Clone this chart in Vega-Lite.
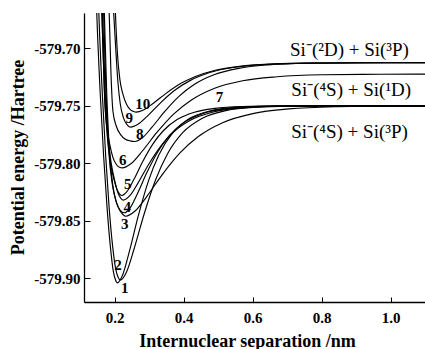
{
"$schema":"https://vega.github.io/schema/vega-lite/v6.json",
"width":341,"height":289,
"autosize":{"type":"none"},
"padding":{"left":84,"top":13,"right":0,"bottom":47},
"background":"white",
"config":{"view":{"stroke":null},"font":"Liberation Serif"},
"datasets":{
"curves":[
{"c":"1","x":0.143,"y":-579.62},{"c":"1","x":0.148,"y":-579.669},{"c":"1","x":0.158,"y":-579.739},{"c":"1","x":0.168,"y":-579.794},{"c":"1","x":0.178,"y":-579.839},{"c":"1","x":0.188,"y":-579.874},{"c":"1","x":0.196,"y":-579.894},{"c":"1","x":0.202,"y":-579.901},{"c":"1","x":0.208,"y":-579.904},{"c":"1","x":0.223,"y":-579.8971},{"c":"1","x":0.243,"y":-579.8762},{"c":"1","x":0.268,"y":-579.8462},{"c":"1","x":0.298,"y":-579.8153},{"c":"1","x":0.328,"y":-579.7928},{"c":"1","x":0.368,"y":-579.7736},{"c":"1","x":0.418,"y":-579.7609},{"c":"1","x":0.478,"y":-579.7543},{"c":"1","x":0.558,"y":-579.7512},{"c":"1","x":0.658,"y":-579.75025},{"c":"1","x":0.808,"y":-579.75002},{"c":"1","x":1.1,"y":-579.75},
{"c":"2","x":0.149,"y":-579.62},{"c":"2","x":0.154,"y":-579.669},{"c":"2","x":0.164,"y":-579.739},{"c":"2","x":0.174,"y":-579.794},{"c":"2","x":0.184,"y":-579.839},{"c":"2","x":0.194,"y":-579.872},{"c":"2","x":0.203,"y":-579.892},{"c":"2","x":0.21,"y":-579.899},{"c":"2","x":0.217,"y":-579.9015},{"c":"2","x":0.234,"y":-579.8948},{"c":"2","x":0.2566,"y":-579.8741},{"c":"2","x":0.2848,"y":-579.8447},{"c":"2","x":0.3187,"y":-579.8143},{"c":"2","x":0.3526,"y":-579.7921},{"c":"2","x":0.3978,"y":-579.7732},{"c":"2","x":0.4543,"y":-579.7608},{"c":"2","x":0.5221,"y":-579.7542},{"c":"2","x":0.6125,"y":-579.7512},{"c":"2","x":0.7255,"y":-579.7502},{"c":"2","x":1.1,"y":-579.75},
{"c":"3","x":0.165,"y":-579.62},{"c":"3","x":0.17,"y":-579.669},{"c":"3","x":0.177,"y":-579.74},{"c":"3","x":0.185,"y":-579.79},{"c":"3","x":0.195,"y":-579.82},{"c":"3","x":0.205,"y":-579.834},{"c":"3","x":0.215,"y":-579.841},{"c":"3","x":0.224,"y":-579.8445},{"c":"3","x":0.232,"y":-579.846},{"c":"3","x":0.2583,"y":-579.8417},{"c":"3","x":0.2935,"y":-579.8287},{"c":"3","x":0.3374,"y":-579.81},{"c":"3","x":0.39,"y":-579.7907},{"c":"3","x":0.4427,"y":-579.7767},{"c":"3","x":0.513,"y":-579.7647},{"c":"3","x":0.6008,"y":-579.7568},{"c":"3","x":0.7061,"y":-579.7527},{"c":"3","x":0.8466,"y":-579.7508},{"c":"3","x":1.022,"y":-579.75015},{"c":"3","x":1.1,"y":-579.7501},
{"c":"4","x":0.163,"y":-579.62},{"c":"4","x":0.168,"y":-579.669},{"c":"4","x":0.175,"y":-579.74},{"c":"4","x":0.183,"y":-579.79},{"c":"4","x":0.193,"y":-579.818},{"c":"4","x":0.203,"y":-579.832},{"c":"4","x":0.212,"y":-579.839},{"c":"4","x":0.22,"y":-579.842},{"c":"4","x":0.228,"y":-579.843},{"c":"4","x":0.2444,"y":-579.8389},{"c":"4","x":0.2662,"y":-579.8262},{"c":"4","x":0.2934,"y":-579.8081},{"c":"4","x":0.3261,"y":-579.7895},{"c":"4","x":0.3588,"y":-579.7758},{"c":"4","x":0.4024,"y":-579.7642},{"c":"4","x":0.4569,"y":-579.7566},{"c":"4","x":0.5223,"y":-579.7526},{"c":"4","x":0.6095,"y":-579.7507},{"c":"4","x":0.7185,"y":-579.75015},{"c":"4","x":1.1,"y":-579.75},
{"c":"5","x":0.16,"y":-579.62},{"c":"5","x":0.165,"y":-579.669},{"c":"5","x":0.172,"y":-579.735},{"c":"5","x":0.18,"y":-579.775},{"c":"5","x":0.19,"y":-579.8},{"c":"5","x":0.2,"y":-579.815},{"c":"5","x":0.21,"y":-579.826},{"c":"5","x":0.218,"y":-579.8305},{"c":"5","x":0.225,"y":-579.832},{"c":"5","x":0.2432,"y":-579.8284},{"c":"5","x":0.2675,"y":-579.8172},{"c":"5","x":0.2979,"y":-579.8012},{"c":"5","x":0.3344,"y":-579.7848},{"c":"5","x":0.3708,"y":-579.7728},{"c":"5","x":0.4194,"y":-579.7626},{"c":"5","x":0.4802,"y":-579.7558},{"c":"5","x":0.553,"y":-579.7523},{"c":"5","x":0.6503,"y":-579.7507},{"c":"5","x":0.7718,"y":-579.7501},{"c":"5","x":1.1,"y":-579.75},
{"c":"5b","x":0.158,"y":-579.62},{"c":"5b","x":0.163,"y":-579.669},{"c":"5b","x":0.17,"y":-579.735},{"c":"5b","x":0.178,"y":-579.775},{"c":"5b","x":0.188,"y":-579.8},{"c":"5b","x":0.198,"y":-579.814},{"c":"5b","x":0.207,"y":-579.823},{"c":"5b","x":0.214,"y":-579.8265},{"c":"5b","x":0.221,"y":-579.828},{"c":"5b","x":0.236,"y":-579.8245},{"c":"5b","x":0.256,"y":-579.8139},{"c":"5b","x":0.281,"y":-579.7987},{"c":"5b","x":0.311,"y":-579.7831},{"c":"5b","x":0.341,"y":-579.7717},{"c":"5b","x":0.381,"y":-579.762},{"c":"5b","x":0.431,"y":-579.7556},{"c":"5b","x":0.491,"y":-579.7522},{"c":"5b","x":0.571,"y":-579.7506},{"c":"5b","x":0.671,"y":-579.7501},{"c":"5b","x":1.1,"y":-579.75},
{"c":"6","x":0.16,"y":-579.64},{"c":"6","x":0.165,"y":-579.69},{"c":"6","x":0.171,"y":-579.745},{"c":"6","x":0.178,"y":-579.77},{"c":"6","x":0.186,"y":-579.784},{"c":"6","x":0.195,"y":-579.795},{"c":"6","x":0.205,"y":-579.801},{"c":"6","x":0.214,"y":-579.8035},{"c":"6","x":0.222,"y":-579.804},{"c":"6","x":0.247,"y":-579.8004},{"c":"6","x":0.2802,"y":-579.7893},{"c":"6","x":0.3218,"y":-579.7734},{"c":"6","x":0.3717,"y":-579.757},{"c":"6","x":0.4216,"y":-579.7451},{"c":"6","x":0.4881,"y":-579.7349},{"c":"6","x":0.5712,"y":-579.7282},{"c":"6","x":0.671,"y":-579.7247},{"c":"6","x":0.804,"y":-579.723},{"c":"6","x":0.97,"y":-579.72253},{"c":"6","x":1.1,"y":-579.7224},
{"c":"8","x":0.18,"y":-579.65},{"c":"8","x":0.184,"y":-579.669},{"c":"8","x":0.189,"y":-579.72},{"c":"8","x":0.195,"y":-579.755},{"c":"8","x":0.205,"y":-579.768},{"c":"8","x":0.217,"y":-579.775},{"c":"8","x":0.231,"y":-579.779},{"c":"8","x":0.245,"y":-579.7805},{"c":"8","x":0.258,"y":-579.781},{"c":"8","x":0.2795,"y":-579.778},{"c":"8","x":0.3083,"y":-579.7686},{"c":"8","x":0.3442,"y":-579.7553},{"c":"8","x":0.3872,"y":-579.7416},{"c":"8","x":0.4303,"y":-579.7315},{"c":"8","x":0.4878,"y":-579.723},{"c":"8","x":0.5596,"y":-579.7174},{"c":"8","x":0.6457,"y":-579.7144},{"c":"8","x":0.7606,"y":-579.713},{"c":"8","x":0.9042,"y":-579.71261},{"c":"8","x":1.1,"y":-579.7125},
{"c":"9","x":0.193,"y":-579.65},{"c":"9","x":0.197,"y":-579.669},{"c":"9","x":0.203,"y":-579.7},{"c":"9","x":0.209,"y":-579.728},{"c":"9","x":0.216,"y":-579.748},{"c":"9","x":0.225,"y":-579.76},{"c":"9","x":0.235,"y":-579.766},{"c":"9","x":0.241,"y":-579.768},{"c":"9","x":0.246,"y":-579.7686},{"c":"9","x":0.2675,"y":-579.7661},{"c":"9","x":0.2963,"y":-579.7585},{"c":"9","x":0.3322,"y":-579.7476},{"c":"9","x":0.3752,"y":-579.7363},{"c":"9","x":0.4183,"y":-579.7281},{"c":"9","x":0.4758,"y":-579.7211},{"c":"9","x":0.5476,"y":-579.7165},{"c":"9","x":0.6337,"y":-579.71406},{"c":"9","x":0.7486,"y":-579.71294},{"c":"9","x":0.8922,"y":-579.71259},{"c":"9","x":1.1,"y":-579.7125},
{"c":"10","x":0.198,"y":-579.64},{"c":"10","x":0.202,"y":-579.669},{"c":"10","x":0.208,"y":-579.705},{"c":"10","x":0.215,"y":-579.727},{"c":"10","x":0.224,"y":-579.74},{"c":"10","x":0.235,"y":-579.749},{"c":"10","x":0.246,"y":-579.7535},{"c":"10","x":0.255,"y":-579.755},{"c":"10","x":0.262,"y":-579.7555},{"c":"10","x":0.2835,"y":-579.7536},{"c":"10","x":0.3123,"y":-579.7477},{"c":"10","x":0.3482,"y":-579.7394},{"c":"10","x":0.3912,"y":-579.7307},{"c":"10","x":0.4343,"y":-579.7245},{"c":"10","x":0.4918,"y":-579.7191},{"c":"10","x":0.5636,"y":-579.7156},{"c":"10","x":0.6497,"y":-579.7137},{"c":"10","x":0.7646,"y":-579.71284},{"c":"10","x":0.9082,"y":-579.71257},{"c":"10","x":1.1,"y":-579.7125}
],
"labels":[
{"t":"1","x":0.229,"y":-579.9086},{"t":"2","x":0.2096,"y":-579.8885},{"t":"3","x":0.229,"y":-579.8529},{"t":"4","x":0.2362,"y":-579.8384},{"t":"5","x":0.2377,"y":-579.818},{"t":"6","x":0.2232,"y":-579.7971},{"t":"7","x":0.5043,"y":-579.7424},{"t":"8","x":0.2725,"y":-579.7746},{"t":"9","x":0.242,"y":-579.7606},{"t":"10","x":0.2812,"y":-579.7485}
],
"asym":[
{"t":"Si⁻(²D) + Si(³P)","x":0.881,"y":-579.7067},{"t":"Si⁻(⁴S) + Si(¹D)","x":0.886,"y":-579.7415},{"t":"Si⁻(⁴S) + Si(³P)","x":0.881,"y":-579.778}
]
},
"layer":[
{"data":{"name":"curves"},
 "mark":{"type":"line","clip":true,"interpolate":"monotone","color":"black","strokeWidth":1.15},
 "encoding":{
  "x":{"field":"x","type":"quantitative","scale":{"domain":[0.111,1.1],"nice":false,"zero":false},
   "axis":{"orient":"bottom","values":[0.2,0.3,0.4,0.5,0.6,0.7,0.8,0.9,1.0,1.1],
    "labelExpr":"round(datum.value*10)%2==1 ? '' : format(datum.value,'.1f')",
    "tickSize":{"condition":{"test":"round(datum.value*10)%2==1","value":-3},"value":-5},
    "tickColor":"black","tickWidth":1,"domainColor":"black","domainWidth":1.3,"grid":false,
    "labelFont":"Liberation Serif","labelFontSize":15,"labelFontWeight":"bold","labelColor":"black","labelPadding":13,"labelBaseline":"top","labelFlush":false,
    "title":"Internuclear separation /nm","titleFont":"Liberation Serif","titleFontSize":18,"titleFontWeight":"bold","titleColor":"black","titleX":163,"titleY":44,"titleBaseline":"alphabetic"}},
  "y":{"field":"y","type":"quantitative","scale":{"domain":[-579.9206,-579.6693],"nice":false,"zero":false},
   "axis":{"orient":"left","values":[-579.9,-579.875,-579.85,-579.825,-579.8,-579.775,-579.75,-579.725,-579.7,-579.675],
    "labelExpr":"round(datum.value*1000)%50!=0 ? '' : '-' + format(abs(datum.value),'.2f')",
    "tickSize":{"condition":{"test":"round(datum.value*1000)%50!=0","value":-3},"value":-6},
    "tickColor":"black","tickWidth":1,"domainColor":"black","domainWidth":1.3,"grid":false,
    "labelFont":"Liberation Serif","labelFontSize":15,"labelFontWeight":"bold","labelColor":"black","labelPadding":10,"labelAlign":"right","labelBaseline":"middle",
    "title":"Potential energy /Hartree","titleFont":"Liberation Serif","titleFontSize":18,"titleFontWeight":"bold","titleColor":"black","titleX":-66,"titleY":144,"titleBaseline":"middle"}},
  "detail":{"field":"c"}
 }},
{"data":{"name":"labels"},
 "mark":{"type":"text","font":"Liberation Serif","fontWeight":"bold","fontSize":15,"color":"black"},
 "encoding":{"x":{"field":"x","type":"quantitative"},"y":{"field":"y","type":"quantitative"},"text":{"field":"t"}}},
{"data":{"name":"asym"},
 "mark":{"type":"text","font":"Liberation Serif","fontSize":19,"color":"black","baseline":"alphabetic"},
 "encoding":{"x":{"field":"x","type":"quantitative"},"y":{"field":"y","type":"quantitative"},"text":{"field":"t"}}}
]
}
